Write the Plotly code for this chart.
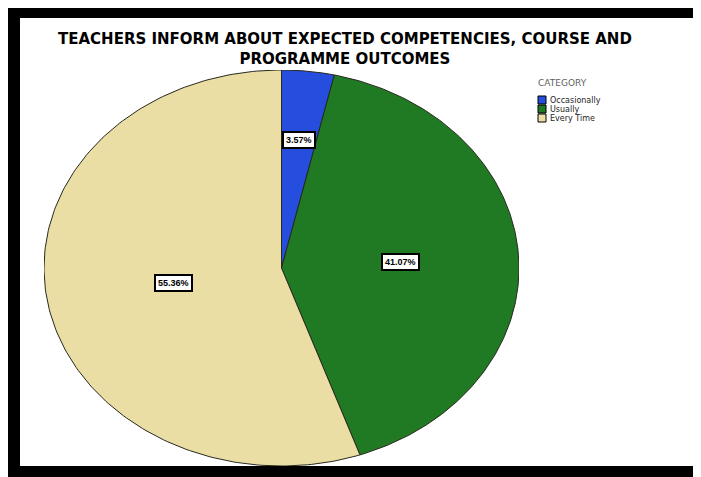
import numpy as np
import plotly.graph_objects as go

categories = ["Occasionally", "Usually", "Every Time"]
percentages = [3.57, 41.07, 55.36]
label_texts = ["3.57%", "41.07%", "55.36%"]
title_lines = ["TEACHERS INFORM ABOUT EXPECTED COMPETENCIES, COURSE AND", "PROGRAMME OUTCOMES"]
legend_title = "CATEGORY"

colors = ["rgb(38,78,222)", "rgb(32,122,36)", "rgb(234,222,165)"]
label_radius = [0.65, 0.5, 0.46]

# page is offset by the 8px default body margin
OFF = 8
W, H = 701 - OFF, 477 - OFF


def px_x(p):
    return (p - OFF) / W


def px_y(p):
    return 1 - (p - OFF) / H


fig = go.Figure()

total = sum(percentages)
start = 0.0
annotations = []
shapes = []
for cat, val, col, txt, lr in zip(categories, percentages, colors, label_texts, label_radius):
    frac0 = start / total
    frac1 = (start + val) / total
    th = np.linspace(frac0, frac1, 200) * 2 * np.pi
    xs = np.concatenate([[0], np.sin(th), [0]])
    ys = np.concatenate([[0], np.cos(th), [0]])
    fig.add_trace(go.Scatter(
        x=xs, y=ys, mode="lines", fill="toself", fillcolor=col,
        line=dict(color="rgb(40,40,30)", width=1), name=cat, hoverinfo="name",
        showlegend=False,
    ))
    mid = (frac0 + frac1) / 2 * 2 * np.pi
    annotations.append(dict(
        x=lr * np.sin(mid), y=lr * np.cos(mid), xref="x", yref="y",
        text="<b>" + txt + "</b>", showarrow=False,
        font=dict(size=9, color="black", family="Liberation Sans"),
        bgcolor="white", bordercolor="black", borderwidth=2, borderpad=2,
    ))
    start += val

# title
annotations.append(dict(
    x=px_x(345), y=px_y(49), xref="paper", yref="paper",
    text="<b>" + "<br>".join(title_lines) + "</b>", showarrow=False,
    font=dict(size=15, color="black", family="DejaVu Sans"),
    xanchor="center", yanchor="middle", align="center",
))

# legend drawn manually (compact SPSS style)
annotations.append(dict(
    x=px_x(536), y=px_y(83), xref="paper", yref="paper", text=legend_title,
    showarrow=False, xanchor="left", yanchor="middle",
    font=dict(size=9, color="rgb(95,95,95)", family="DejaVu Sans"),
))
leg_y = [100, 109, 118]
for cat, col, ly in zip(categories, colors, leg_y):
    shapes.append(dict(
        type="rect", xref="paper", yref="paper",
        x0=px_x(538), x1=px_x(546), y0=px_y(ly + 4), y1=px_y(ly - 4),
        fillcolor=col, line=dict(color="black", width=1),
    ))
    annotations.append(dict(
        x=px_x(548), y=px_y(ly), xref="paper", yref="paper", text=cat,
        showarrow=False, xanchor="left", yanchor="middle",
        font=dict(size=8, color="rgb(30,30,30)", family="DejaVu Sans"),
    ))

# photographed frame
shapes += [
    dict(type="rect", xref="paper", yref="paper", x0=px_x(8), x1=px_x(20), y0=px_y(477), y1=px_y(8),
         fillcolor="black", line=dict(width=0)),
    dict(type="rect", xref="paper", yref="paper", x0=px_x(8), x1=px_x(701), y0=px_y(18), y1=px_y(8),
         fillcolor="black", line=dict(width=0)),
    dict(type="rect", xref="paper", yref="paper", x0=px_x(8), x1=px_x(701), y0=px_y(477), y1=px_y(466),
         fillcolor="black", line=dict(width=0)),
    dict(type="rect", xref="paper", yref="paper", x0=px_x(696), x1=px_x(699), y0=px_y(466), y1=px_y(8),
         fillcolor="black", line=dict(width=0)),
]

fig.update_layout(
    width=W, height=H,
    margin=dict(l=0, r=0, t=0, b=0),
    paper_bgcolor="white", plot_bgcolor="white",
    xaxis=dict(domain=[px_x(44), px_x(519)], range=[-1, 1], visible=False, fixedrange=True),
    yaxis=dict(domain=[px_y(466), px_y(70)], range=[-1, 1], visible=False, fixedrange=True),
    showlegend=False,
    annotations=annotations,
    shapes=shapes,
)

fig.write_html("out.html")
